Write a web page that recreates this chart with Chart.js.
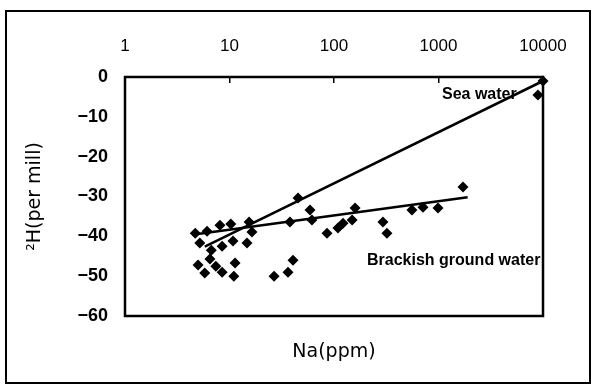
<!DOCTYPE html>
<html><head><meta charset="utf-8">
<script src="https://cdn.jsdelivr.net/npm/chart.js@4/dist/chart.umd.min.js"></script>
<style>html,body{margin:0;padding:0;background:#fff;}#wrap{width:595px;height:388px;position:relative;}</style>
</head><body><div id="wrap"><canvas id="c"></canvas></div>
<script>
// Sampled waters: Na (ppm) and deuterium (per mill)
const naPpm  = [4.7, 6.1, 8.1, 10.3, 15.4, 16.4, 5.2, 6.7, 8.5, 10.8, 14.7, 5.0, 6.5, 7.4, 8.5, 11.3, 11.0, 5.8,
                26.7, 36.3, 40.5, 37.9, 45.3, 58.9, 61.5, 85.7, 109, 122, 149, 159, 294, 321, 557, 711, 989, 1715, 8950, 10000];
const deltaH = [-39.2, -38.7, -37.2, -36.9, -36.4, -38.9, -41.7, -43.5, -42.5, -41.2, -41.7, -47.2, -45.7, -47.5, -49.0, -46.7, -50.0, -49.2,
                -50.0, -49.0, -46.0, -36.4, -30.4, -33.4, -35.9, -39.2, -37.9, -36.7, -35.9, -32.9, -36.4, -39.2, -33.4, -32.7, -32.9, -27.6, -4.5, -1.0];
// Mixing lines
const seaLineNa   = [5.8, 10000];
const seaLineH    = [-42.6, -1.0];
const brackLineNa = [4.4, 1900];
const brackLineH  = [-39.6, -30.2];
// Axis ticks
const xTickValues = [1, 10, 100, 1000, 10000];
const yTickValues = [0, -10, -20, -30, -40, -50, -60];
const labelTexts  = ['Sea water', 'Brackish ground water'];

const pts = naPpm.map((v, i) => ({x: v, y: deltaH[i]}));
const seaPts = seaLineNa.map((v, i) => ({x: v, y: seaLineH[i]}));
const brPts = brackLineNa.map((v, i) => ({x: v, y: brackLineH[i]}));

const decor = {
  id: 'decor',
  beforeDraw(chart) {
    const ctx = chart.ctx;
    ctx.save();
    ctx.fillStyle = '#fff';
    ctx.fillRect(0, 0, chart.width, chart.height);
    ctx.strokeStyle = '#000';
    ctx.lineWidth = 2;
    ctx.strokeRect(6, 11, 584, 372);
    ctx.restore();
  },
  beforeDatasetsDraw(chart) {
    const a = chart.chartArea, ctx = chart.ctx;
    ctx.save();
    ctx.strokeStyle = '#000';
    ctx.lineWidth = 2.5;
    ctx.strokeRect(a.left, a.top, a.right - a.left, a.bottom - a.top);
    ctx.restore();
  },
  afterDatasetsDraw(chart, args, opts) {
    const ctx = chart.ctx, xs = chart.scales.x, ys = chart.scales.y;
    ctx.save();
    ctx.fillStyle = '#000';
    ctx.font = 'bold 16px "Liberation Sans", Arial, sans-serif';
    ctx.textBaseline = 'middle';
    ctx.textAlign = 'left';
    opts.labels.forEach((l, i) => {
      ctx.fillText(labelTexts[i], xs.getPixelForValue(l.x), ys.getPixelForValue(l.y));
    });
    ctx.restore();
  }
};

new Chart(document.getElementById('c'), {
  type: 'scatter',
  data: {
    datasets: [
      {data: pts, showLine: false, clip: false, pointStyle: 'rectRot', pointRadius: 5.5, backgroundColor: '#000', borderColor: '#000', borderWidth: 0},
      {data: seaPts, showLine: true, pointRadius: 0, borderColor: '#000', borderWidth: 2.5},
      {data: brPts, showLine: true, pointRadius: 0, borderColor: '#000', borderWidth: 2.5}
    ]
  },
  options: {
    responsive: true, maintainAspectRatio: false, animation: false, devicePixelRatio: 1,
    layout: {padding: {top: 0, right: 52, bottom: 0, left: 0}},
    plugins: {legend: {display: false}, tooltip: {enabled: false},
      decor: {labels: [{x: 1080, y: -4.5}, {x: 207, y: -46}]}},
    scales: {
      x: {
        type: 'logarithmic', position: 'top', min: 1, max: 10000,
        afterBuildTicks: s => { s.ticks = xTickValues.map(v => ({value: v})); },
        afterFit: s => { s.height = 77; },
        ticks: {callback: v => String(v), color: '#000', padding: 26, maxRotation: 0, autoSkip: false,
                font: {family: '"Liberation Sans", Arial, sans-serif', size: 17}},
        grid: {display: true, drawOnChartArea: false, drawTicks: true, tickLength: -6, color: '#000', lineWidth: 1.5},
        border: {display: false}
      },
      x2: {
        type: 'linear', position: 'bottom', display: true,
        ticks: {display: false}, grid: {display: false, drawTicks: false}, border: {display: false},
        afterFit: s => { s.height = 72; },
        title: {display: true, text: 'Na(ppm)', color: '#000', padding: {top: 0, bottom: 25},
                font: {family: '"DejaVu Sans", sans-serif', size: 19}}
      },
      y: {
        type: 'linear', position: 'left', min: -60, max: 0,
        afterBuildTicks: s => { s.ticks = yTickValues.map(v => ({value: v})); },
        afterFit: s => { s.width = 125; },
        ticks: {callback: v => (v === 0 ? '0' : '\u2212' + Math.abs(v)), color: '#000', padding: 17,
                font: {family: '"Liberation Sans", Arial, sans-serif', size: 18, weight: 'bold'}},
        grid: {display: false, drawTicks: false}, border: {display: false},
        title: {display: true, text: '\u00B2H(per mill)', color: '#000', padding: {top: 24, bottom: 0},
                font: {family: '"DejaVu Sans", sans-serif', size: 19}}
      }
    }
  },
  plugins: [decor]
});
</script></body></html>
